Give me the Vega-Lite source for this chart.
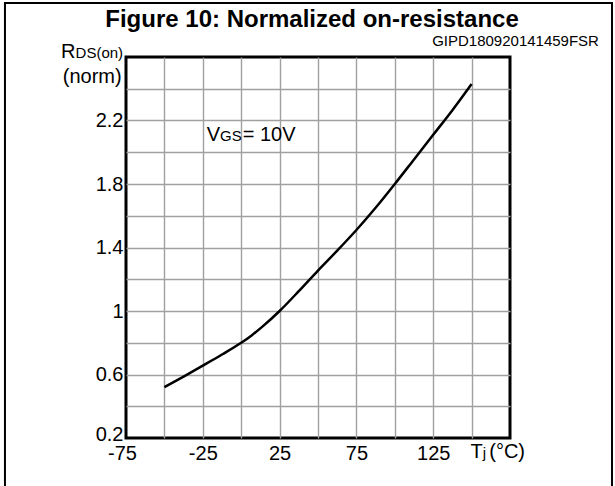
{
  "$schema": "https://vega.github.io/schema/vega-lite/v6.json",
  "width": 384,
  "height": 381,
  "autosize": {"type": "none"},
  "padding": {"left": 126, "top": 57, "right": 105, "bottom": 48},
  "background": "white",
  "config": {
    "font": "Liberation Sans",
    "view": {"stroke": "black", "strokeWidth": 3},
    "text": {"font": "Liberation Sans", "color": "black"}
  },
  "data": {
    "values": [
      {"tj": -50, "rds": 0.52},
      {"tj": -37.5, "rds": 0.587},
      {"tj": -25, "rds": 0.656},
      {"tj": -12.5, "rds": 0.726},
      {"tj": 0, "rds": 0.8},
      {"tj": 7, "rds": 0.848},
      {"tj": 14, "rds": 0.903},
      {"tj": 25, "rds": 1.0},
      {"tj": 37.5, "rds": 1.125},
      {"tj": 50, "rds": 1.255},
      {"tj": 62.5, "rds": 1.38},
      {"tj": 75, "rds": 1.51},
      {"tj": 87.5, "rds": 1.65},
      {"tj": 100, "rds": 1.8},
      {"tj": 112.5, "rds": 1.955},
      {"tj": 125, "rds": 2.11},
      {"tj": 137.5, "rds": 2.265},
      {"tj": 150, "rds": 2.43}
    ]
  },
  "layer": [
    {
      "mark": {"type": "line", "color": "black", "strokeWidth": 2.5, "interpolate": "monotone"},
      "encoding": {
        "x": {
          "field": "tj",
          "type": "quantitative",
          "scale": {"domain": [-75, 175], "nice": false, "zero": false},
          "axis": {
            "title": null,
            "values": [-75, -50, -25, 0, 25, 50, 75, 100, 125, 150, 175],
            "tickCount": 40,
            "grid": true,
            "gridColor": {"condition": {"test": "datum.value == -75 || datum.value == 175", "value": "transparent"}, "value": "#a0a0a0"},
            "gridWidth": 1.4,
            "domain": false,
            "ticks": false,
            "labelExpr": "((datum.value + 75) % 50 == 0 && datum.value < 175) ? ('' + datum.value) : ''",
            "labelFontSize": 20,
            "labelColor": "black",
            "labelPadding": 5,
            "labelOffset": {"condition": {"test": "datum.value == -75", "value": -4}, "value": 0},
            "labelFlush": false,
            "labelOverlap": false,
            "labelBound": false
          }
        },
        "y": {
          "field": "rds",
          "type": "quantitative",
          "scale": {"domain": [0.2, 2.6], "nice": false, "zero": false},
          "axis": {
            "title": null,
            "values": [0.2, 0.4, 0.6, 0.8, 1, 1.2, 1.4, 1.6, 1.8, 2, 2.2, 2.4, 2.6],
            "tickCount": 40,
            "grid": true,
            "gridColor": {"condition": {"test": "datum.value < 0.3 || datum.value > 2.5", "value": "transparent"}, "value": "#a0a0a0"},
            "gridWidth": 1.4,
            "domain": false,
            "ticks": false,
            "labelExpr": "(round(datum.value * 10) % 4 == 2 && datum.value < 2.5) ? ('' + datum.value) : ''",
            "labelFontSize": 20,
            "labelColor": "black",
            "labelPadding": 3,
            "labelOffset": {"condition": {"test": "datum.value < 0.3", "value": -4}, "value": 0},
            "labelFlush": false,
            "labelOverlap": false,
            "labelBound": false
          }
        }
      }
    },
    {
      "data": {"values": [{}]},
      "mark": {"type": "rect", "fill": null, "stroke": "black", "strokeWidth": 2},
      "encoding": {
        "x": {"datum": -153.8, "type": "quantitative", "title": null},
        "x2": {"datum": 241.4},
        "y": {"datum": 2.94, "type": "quantitative", "title": null},
        "y2": {"datum": -0.2}
      }
    },
    {
      "data": {"values": [{}]},
      "mark": {"type": "text", "text": "Figure 10: Normalized on-resistance", "fontSize": 24, "fontWeight": "bold", "align": "center", "baseline": "alphabetic"},
      "encoding": {
        "x": {"datum": 46.1, "type": "quantitative", "title": null},
        "y": {"datum": 2.791, "type": "quantitative", "title": null}
      }
    },
    {
      "data": {"values": [{}]},
      "mark": {"type": "text", "text": "GIPD180920141459FSR", "fontSize": 15, "align": "right", "baseline": "alphabetic"},
      "encoding": {
        "x": {"datum": 232.9, "type": "quantitative", "title": null},
        "y": {"datum": 2.669, "type": "quantitative", "title": null}
      }
    },
    {
      "data": {"values": [{}]},
      "mark": {"type": "text", "text": "R", "fontSize": 20, "align": "right", "baseline": "alphabetic"},
      "encoding": {
        "x": {"datum": -107.9, "type": "quantitative", "title": null},
        "y": {"datum": 2.592, "type": "quantitative", "title": null}
      }
    },
    {
      "data": {"values": [{}]},
      "mark": {"type": "text", "text": "DS(on)", "fontSize": 15, "align": "right", "baseline": "alphabetic"},
      "encoding": {
        "x": {"datum": -76.9, "type": "quantitative", "title": null},
        "y": {"datum": 2.592, "type": "quantitative", "title": null}
      }
    },
    {
      "data": {"values": [{}]},
      "mark": {"type": "text", "text": "(norm)", "fontSize": 20, "align": "right", "baseline": "alphabetic"},
      "encoding": {
        "x": {"datum": -77.8, "type": "quantitative", "title": null},
        "y": {"datum": 2.436, "type": "quantitative", "title": null}
      }
    },
    {
      "data": {"values": [{}]},
      "mark": {"type": "text", "text": "V", "fontSize": 20, "align": "left", "baseline": "alphabetic"},
      "encoding": {
        "x": {"datum": -22.46, "type": "quantitative", "title": null},
        "y": {"datum": 2.073, "type": "quantitative", "title": null}
      }
    },
    {
      "data": {"values": [{}]},
      "mark": {"type": "text", "text": "GS", "fontSize": 15, "align": "left", "baseline": "alphabetic"},
      "encoding": {
        "x": {"datum": -13.8, "type": "quantitative", "title": null},
        "y": {"datum": 2.073, "type": "quantitative", "title": null}
      }
    },
    {
      "data": {"values": [{}]},
      "mark": {"type": "text", "text": "= 10V", "fontSize": 20, "align": "left", "baseline": "alphabetic"},
      "encoding": {
        "x": {"datum": 0.96, "type": "quantitative", "title": null},
        "y": {"datum": 2.073, "type": "quantitative", "title": null}
      }
    },
    {
      "data": {"values": [{}]},
      "mark": {"type": "text", "text": "T", "fontSize": 20, "align": "left", "baseline": "alphabetic"},
      "encoding": {
        "x": {"datum": 149.3, "type": "quantitative", "title": null},
        "y": {"datum": 0.071, "type": "quantitative", "title": null}
      }
    },
    {
      "data": {"values": [{}]},
      "mark": {"type": "text", "text": "j", "fontSize": 15, "align": "left", "baseline": "alphabetic"},
      "encoding": {
        "x": {"datum": 157.2, "type": "quantitative", "title": null},
        "y": {"datum": 0.071, "type": "quantitative", "title": null}
      }
    },
    {
      "data": {"values": [{}]},
      "mark": {"type": "text", "text": "(°C)", "fontSize": 20, "align": "left", "baseline": "alphabetic"},
      "encoding": {
        "x": {"datum": 161.5, "type": "quantitative", "title": null},
        "y": {"datum": 0.071, "type": "quantitative", "title": null}
      }
    }
  ]
}
